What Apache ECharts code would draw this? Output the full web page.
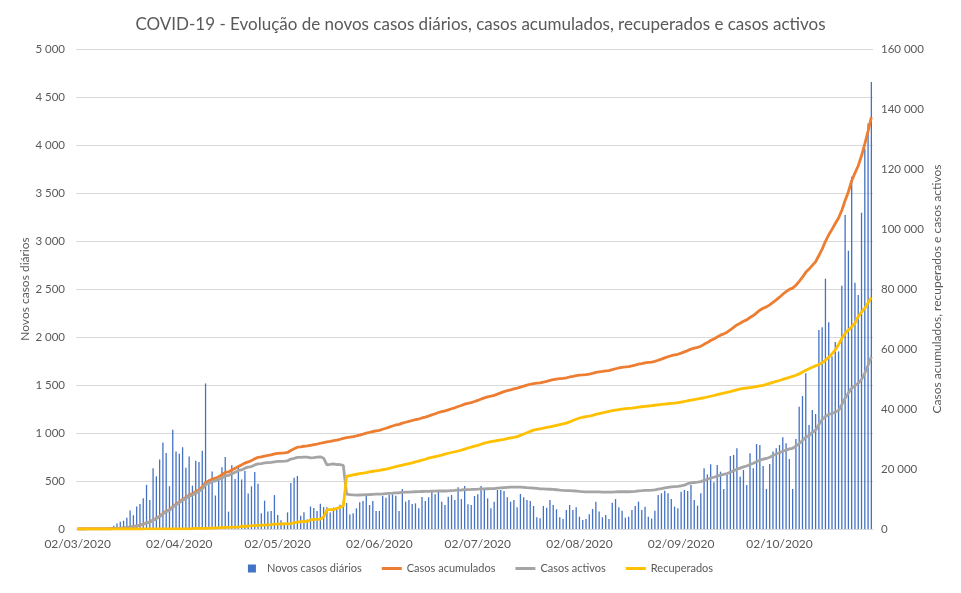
<!DOCTYPE html>
<html>
<head>
<meta charset="utf-8">
<script src="https://cdn.jsdelivr.net/npm/echarts@6.0.0/dist/echarts.min.js"></script>
<style>
  html, body { margin: 0; padding: 0; background: #fff; }
  #chart { width: 961px; height: 593px; }
</style>
</head>
<body>
<div id="chart"></div>
<script>
// Data, one value per day from 02/03/2020 to 30/10/2020

const firstDay = [2020, 2, 2];
const dayCount = 243;

const novosCasos = [
  2, 2, 2, 3, 4, 8, 9, 9, 2, 18, 19, 34, 57, 76, 86, 117, 194, 143, 235, 260, 320, 460, 302, 633, 549, 724, 902, 792, 446, 1035,
  808, 783, 852, 638, 754, 452, 712, 699, 815, 1516, 515, 598, 349, 514, 643, 750, 181, 663, 521, 657, 516, 603, 371, 444, 595, 472, 163, 295, 183, 187,
  353, 145, 92, 69, 173,
  480, 533, 553, 138, 175, 98, 234, 219, 187, 264, 227, 226, 173, 223, 228, 252, 288, 271, 152, 165,
  215, 278, 292, 347, 250, 292, 188, 188, 347, 326, 354, 361, 347, 188, 417, 285, 302, 260, 267, 215,
  333, 292, 330, 406, 361, 389, 285, 250, 337, 354, 302, 434, 312, 448, 257, 250, 344, 361, 448, 406, 319,
  215, 285, 406, 406, 396, 330, 285, 302, 226, 365, 330, 302, 292, 240, 122, 111, 240, 222, 302, 250,
  205, 122, 104, 198, 250, 198, 226, 128, 94, 104, 153, 208, 285, 181, 122, 146, 104, 274, 312, 226,
  191, 118, 128, 198, 240, 285, 198, 233, 128, 108, 191, 354, 372, 399, 372, 312, 233, 215, 389, 406,
  396, 458, 302, 243, 372, 632, 569, 674, 486, 667, 597, 417, 569, 760, 771, 840, 545, 615, 458, 788,
  632, 885, 875, 656, 417, 677, 806, 840, 875, 955, 892, 729, 417, 938, 1274, 1385, 1622, 1083, 1240, 1198,
  2072, 2101, 2608, 2153, 1800, 1949, 1850, 2535, 3270, 2899, 3669, 2566, 2437, 3295, 3960, 4224, 4656
];

const casosAcumulados = [
  2, 4, 6, 9, 13, 21, 30, 39, 41, 59, 78, 112, 169, 245, 331, 448, 642, 785, 1020, 1280, 1600, 2060, 2362, 2995, 3544, 4268, 5170, 5962, 6408, 7443,
  8251, 9034, 9886, 10524, 11278, 11730, 12442, 13141, 13956, 15472, 15987, 16585, 16934, 17448, 18091, 18841, 19022, 19685, 20206, 20863,
  21379, 21982, 22353, 22797, 23392, 23864, 24027, 24322, 24505, 24692,
  25045, 25190, 25282, 25351, 25524,
  26182, 26715, 27268, 27406, 27581, 27679, 27913, 28132, 28319, 28583, 28810, 29036, 29209, 29432, 29660, 29912, 30200, 30471, 30623, 30788,
  31033, 31311, 31603, 31950, 32200,
  32500, 32700, 32890, 33250, 33580, 33950, 34320, 34670, 34870, 35290, 35590, 35900, 36170, 36440, 36660, 37010, 37310, 37650, 38060, 38430,
  38830, 39120, 39380, 39720, 40090, 40400, 40840, 41160, 41620, 41880, 42141,
  42490, 42860, 43310, 43720, 44040, 44260, 44550, 44960, 45370, 45780, 46110, 46400, 46710, 46940, 47310, 47640, 47950, 48250, 48490, 48620,
  48730, 48980, 49200, 49510, 49770, 49980, 50100, 50210, 50410, 50670, 50870,
  51110, 51260, 51370, 51490, 51660, 51880, 52180, 52380, 52520, 52680, 52810, 53100, 53420, 53670, 53880, 54010, 54150, 54370, 54630, 54930,
  55140, 55390, 55540, 55660, 55870, 56240, 56630, 57050, 57430, 57760, 58012,
  58240, 58640, 59060, 59470, 59950, 60260, 60520, 60900, 61550, 62130, 62820, 63320, 64000, 64610, 65040, 65620, 66400, 67180, 68040, 68600,
  69220, 69700, 70500, 71140, 72040, 72930, 73600, 74030, 74720, 75542,
  76390, 77270, 78240, 79140, 79870, 80300, 81240, 82530, 83920, 85550, 86640, 87890, 89090, 91170, 93280, 95900, 98060, 99870, 101820, 103680,
  106230, 109500, 112410, 116090, 118660, 121100, 124410, 128380, 132610, 137272
];

const casosActivos = [
  2, 4, 6, 9, 13, 21, 30, 39, 41, 59, 78, 112, 169, 245,
  328, 444, 637, 779, 1009, 1263, 1581, 2023, 2307, 2930, 3441, 4149, 5027, 5800, 6225, 7240,
  8021, 8757, 9572, 10183, 10908, 11279, 11913, 12565, 13342, 14804, 15251, 15804, 16052, 16498, 16999, 17693, 17846, 18388, 18882, 19518,
  19700, 20280, 20616, 20800, 21369, 21733, 21822, 22045, 22143, 22233,
  22391, 22520, 22568, 22599, 22738, 23321, 23534, 23896, 23858, 23947, 23986, 23737, 23775, 23937, 24065, 23607, 21388, 21526, 21733, 21497,
  21435, 21206, 11620, 11485, 11362,
  11300, 11340, 11380, 11450, 11500, 11560, 11600, 11620, 11700, 11790, 11880, 11960, 12050, 12080, 12200, 12270, 12320, 12380, 12420, 12440,
  12500, 12530, 12560, 12610, 12640, 12670, 12680, 12670, 12710, 12780, 12850, 12950, 13000, 13110, 13150, 13180, 13220, 13280, 13370, 13400, 13420,
  13430, 13480, 13590, 13700, 13800, 13880, 13930, 13960, 13940, 13960, 13900, 13800, 13720, 13640, 13520, 13400, 13350, 13300, 13250, 13180,
  13090, 12950, 12850, 12800, 12760, 12700, 12660, 12560, 12470, 12400, 12370, 12360, 12400, 12370, 12320, 12300, 12260, 12320, 12400, 12420,
  12440, 12410, 12420, 12480, 12560, 12680, 12760, 12850, 12900, 12950, 13050, 13270, 13480, 13700, 13880, 14020, 14100, 14180, 14400, 14620,
  15100, 15350, 15500, 15600, 15800, 16200, 16600, 17000, 17250, 17650, 18000, 18200, 18500, 18900, 19400, 19900, 20300, 20700, 21000, 21500,
  21900, 22400, 22900, 23300, 23500, 23900, 24500, 25000, 25400, 25900, 26300, 26700, 26900, 27600, 28500, 29500, 30600, 31200, 32200, 33000,
  34800, 36500, 37500, 38200, 38500, 39000, 39500, 41500, 43600, 45300, 47000, 47800, 48600, 49800, 52000, 54600, 57400
];

const recuperados = [
  0, 0, 0, 0, 0, 0, 0, 0, 0, 0, 0, 0, 0, 0,
  3, 3, 3, 3, 5, 5, 5, 14, 22, 22, 43, 43, 43, 43, 43, 43,
  43, 68, 68, 75, 75, 140, 184, 196, 205, 233, 266, 277, 347, 383, 493, 519, 519, 610, 610, 610,
  917, 917, 917, 1143, 1143, 1228, 1277, 1329, 1389, 1470,
  1647, 1647, 1671, 1689, 1712, 1772, 2076, 2258, 2422, 2499, 2549, 3013, 3182, 3198, 3328, 4000, 6430, 6452, 6452, 6900,
  7200, 7705, 17549,
  17800, 18050, 18250, 18450, 18620, 18830, 19050, 19250, 19400, 19550,
  19750, 19950, 20200, 20500, 20800, 21050, 21300, 21550, 21800, 22050,
  22350, 22650, 22950, 23250, 23600, 23850, 24100, 24350, 24650, 24950,
  25250, 25500, 25750, 26000, 26300, 26650, 27000, 27300, 27600, 27900,
  28250, 28600, 28850, 29100, 29300, 29500, 29700, 29900, 30150, 30350,
  30550, 30800, 31200, 31650, 32100, 32550, 32950, 33200, 33400, 33600,
  33850, 34050, 34300, 34550, 34800, 35050, 35300, 35700, 36150, 36600,
  37000, 37250, 37450, 37650, 37900, 38200, 38450, 38700, 38950, 39200,
  39450, 39650, 39800, 39950, 40100, 40200, 40300, 40450, 40600, 40750,
  40900, 41000, 41100, 41250, 41400, 41550, 41650, 41750, 41850, 41950,
  42100, 42300, 42500, 42750, 42950, 43150, 43350, 43550, 43750, 44000,
  44250, 44500, 44800, 45050, 45300, 45550, 45800, 46100, 46400, 46700,
  46850, 47000, 47150, 47300, 47500, 47700, 47900, 48200, 48550, 48900,
  49200, 49500, 49850, 50200, 50550, 50900, 51250, 51700, 52300, 52900,
  53400, 53900, 54400, 54800, 55400, 56300, 57200, 58400, 59700, 61500,
  63500, 65200, 66300, 67400, 68600, 70800, 72300, 73600, 75400, 77200
];

const leftTicks = { min: 0, max: 5000, step: 500 };
const rightTicks = { min: 0, max: 160000, step: 20000 };

// Category labels dd/mm/yyyy

function pad(n)
{
    return (n < 10 ? "0" : "") + n;
}

const datas = [];
for (let i = 0; i < dayCount; i++)
{
    const d = new Date(firstDay[0], firstDay[1], firstDay[2] + i);
    datas.push(pad(d.getDate()) + "/" + pad(d.getMonth() + 1) + "/" + d.getFullYear());
}

function milhares(v)
{
    return String(v).replace(/\B(?=(\d{3})+(?!\d))/g, " ");
}

function isMonthStart(index, value)
{
    return value.indexOf("02/") === 0;
}

const FONT = "Lato";
const TXT = "#595959";
const LINE_ICON = "path://M0,0h20v3H0z";

const chart = echarts.init(document.getElementById("chart"), null, { renderer: "canvas" });

chart.setOption({
    animation: false,
    backgroundColor: "#fff",
    textStyle: { fontFamily: FONT },
    title: {
        text: "COVID-19 - Evolução de novos casos diários, casos acumulados, recuperados e casos activos",
        left: "center",
        top: 11,
        textStyle: { fontFamily: FONT, fontSize: 17, fontWeight: "normal", color: TXT }
    },
    legend: {
        bottom: 14,
        left: "center",
        itemGap: 20,
        itemWidth: 20,
        itemHeight: 8,
        textStyle: { fontFamily: FONT, fontSize: 11, color: TXT },
        data: [
            { name: "Novos casos diários", icon: "path://M0,0h10v10H0z" },
            { name: "Casos acumulados", icon: LINE_ICON },
            { name: "Casos activos", icon: LINE_ICON },
            { name: "Recuperados", icon: LINE_ICON }
        ]
    },
    grid: { left: 76, right: 88, top: 49, bottom: 64 },
    xAxis: {
        type: "category",
        data: datas,
        boundaryGap: true,
        axisLine: { lineStyle: { color: "#D9D9D9" } },
        axisTick: { interval: isMonthStart, length: 5, lineStyle: { color: "#D9D9D9" } },
        axisLabel: {
            interval: isMonthStart,
            color: TXT,
            fontSize: 12,
            fontFamily: FONT,
            margin: 9
        }
    },
    yAxis: [
        {
            type: "value",
            min: leftTicks.min,
            max: leftTicks.max,
            interval: leftTicks.step,
            name: "Novos casos diários",
            nameLocation: "middle",
            nameRotate: 90,
            nameGap: 45,
            nameMoveOverlap: false,
            nameTextStyle: { color: TXT, fontSize: 12, fontFamily: FONT },
            axisLine: { show: false },
            axisTick: { show: false },
            axisLabel: { color: TXT, fontSize: 11.5, fontFamily: FONT, margin: 11, formatter: milhares },
            splitLine: { lineStyle: { color: "#D9D9D9", width: 1 } }
        },
        {
            type: "value",
            position: "right",
            min: rightTicks.min,
            max: rightTicks.max,
            interval: rightTicks.step,
            name: "Casos acumulados, recuperados e casos activos",
            nameLocation: "middle",
            nameRotate: 90,
            nameGap: 58,
            nameMoveOverlap: false,
            nameTextStyle: { color: TXT, fontSize: 12, fontFamily: FONT },
            axisLine: { show: false },
            axisTick: { show: false },
            axisLabel: { color: TXT, fontSize: 11.5, fontFamily: FONT, margin: 8, formatter: milhares },
            splitLine: { show: false }
        }
    ],
    series: [
        {
            name: "Novos casos diários",
            type: "bar",
            yAxisIndex: 0,
            data: novosCasos,
            barWidth: 1.3,
            itemStyle: { color: "#4472C4" }
        },
        {
            name: "Casos acumulados",
            type: "line",
            yAxisIndex: 1,
            data: casosAcumulados,
            symbol: "none",
            lineStyle: { color: "#ED7D31", width: 2.8 },
            itemStyle: { color: "#ED7D31" }
        },
        {
            name: "Casos activos",
            type: "line",
            yAxisIndex: 1,
            data: casosActivos,
            symbol: "none",
            lineStyle: { color: "#A5A5A5", width: 2.8 },
            itemStyle: { color: "#A5A5A5" }
        },
        {
            name: "Recuperados",
            type: "line",
            yAxisIndex: 1,
            data: recuperados,
            symbol: "none",
            lineStyle: { color: "#FFC000", width: 2.8 },
            itemStyle: { color: "#FFC000" }
        }
    ]
});
</script>
</body>
</html>
